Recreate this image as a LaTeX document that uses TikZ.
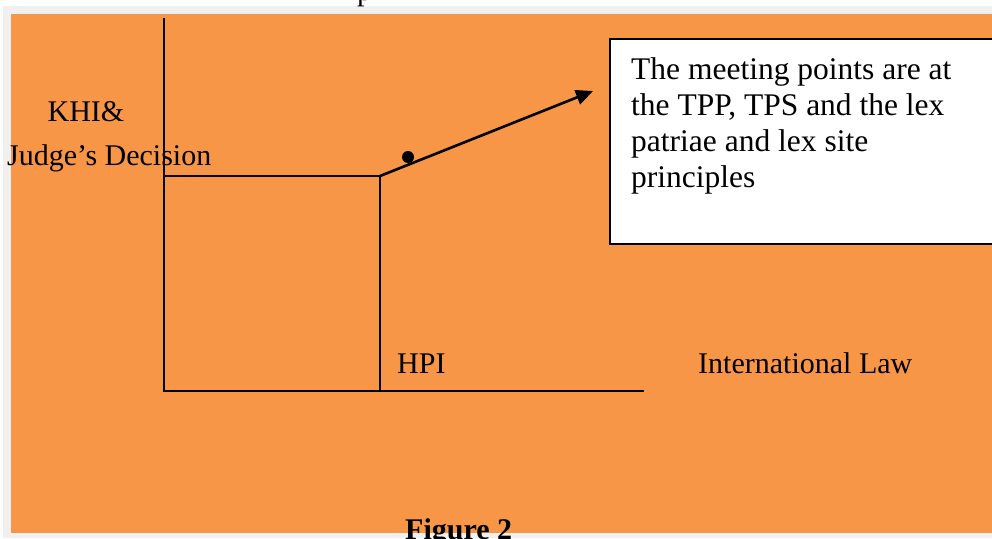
\documentclass[tikz,border=0pt]{standalone}
\usepackage{fontspec}
\setmainfont{Liberation Serif}
\usetikzlibrary{arrows.meta}
\definecolor{bgorange}{HTML}{F79646}
\definecolor{margingray}{HTML}{F0F0F0}
\begin{document}
\begin{tikzpicture}[x=1pt,y=-1pt,
  axisline/.style={line width=2pt,black},
  arrowline/.style={line width=2.6pt,black,-{Triangle[length=17pt,width=15pt]}},
  lbl/.style={font=\fontsize{30}{36}\selectfont, inner sep=0pt, anchor=base west},
  boxtxt/.style={font=\fontsize{31.5}{36}\selectfont, inner sep=0pt, anchor=base west},
  boxst/.style={draw=black, line width=2pt, fill=white, inner sep=0pt, anchor=north west, minimum width=400pt, minimum height=205pt},
  figlbl/.style={font=\bfseries\fontsize{30}{36}\selectfont, inner sep=0pt, anchor=base west}]
\useasboundingbox (0,0) rectangle (992,538);
\clip (0,0) rectangle (992,538);
\fill[white] (0,0) rectangle (992,538);
\fill[margingray] (3,6) rectangle (992,538);
\fill[bgorange] (10.5,14) rectangle (992,533);
\node[lbl] (ptop) at (357,0) {p};
% box
\node[boxst] (box) at (609,38) {};
\node[boxtxt] (l1) at (631,79) {The meeting points are at};
\node[boxtxt] (l2) at (631,115) {the TPP, TPS and the lex};
\node[boxtxt] (l3) at (631,151) {patriae and lex site};
\node[boxtxt] (l4) at (631,187) {principles};
% axes
\coordinate (ytop) at (164,18);
\coordinate (origin) at (164,391);
\coordinate (xend) at (644,391);
\coordinate (ymark) at (164,176);
\coordinate (knee) at (380,176);
\coordinate (kneebot) at (380,390);
\coordinate (tip) at (593,91);
\draw[axisline] (ytop) -- (origin) -- (xend);
\draw[axisline] (ymark) -- (knee) -- (kneebot);
\draw[arrowline] (knee) -- (tip);
\fill (408,157) circle (6pt);
% labels
\node[lbl, anchor=base] (khi) at (86,121) {KHI\&};
\node[lbl] (judge) at (7,165) {Judge’s Decision};
\node[lbl] (hpi) at (397,373) {HPI};
\node[lbl] (intl) at (698,373) {International Law};
\node[figlbl] (fig) at (405,539) {Figure 2};
\end{tikzpicture}
\end{document}
